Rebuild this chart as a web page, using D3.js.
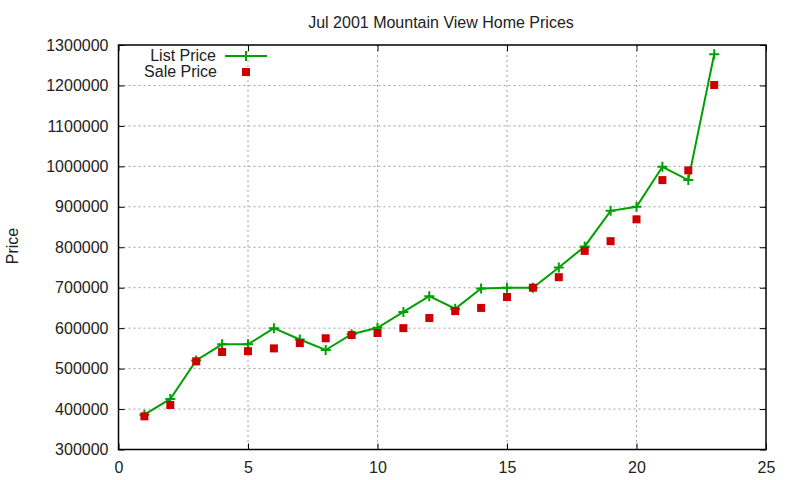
<!DOCTYPE html>
<html>
<head>
<meta charset="utf-8">
<script src="https://cdn.jsdelivr.net/npm/d3@7"></script>
<style>
  body { margin: 0; background: #fff; }
  text { font-family: "Liberation Sans", Arial, sans-serif; fill: #222; }
</style>
</head>
<body>
<script>
// datos
var casas = [1, 2, 3, 4, 5, 6, 7, 8, 9, 10, 11, 12, 13, 14, 15, 16, 17, 18, 19, 20, 21, 22, 23];
var listPrice = [386000, 425000, 520000, 560000, 560000, 600000, 572000, 546000, 585000, 601000,
                 640000, 679000, 648000, 698000, 700000, 700000, 750000, 802000, 890000, 900000,
                 999000, 966000, 1277000];
var salePrice = [382000, 410000, 518000, 541000, 543000, 550000, 563000, 575000, 583000, 588000,
                 600000, 625000, 642000, 650000, 677000, 700000, 726000, 791000, 815000, 869000,
                 966000, 990000, 1201000];
var xTicks = [0, 5, 10, 15, 20, 25];
var yTicks = [300000, 400000, 500000, 600000, 700000, 800000, 900000, 1000000, 1100000, 1200000, 1300000];

var vis = {
    width: 800,
    height: 480,
    left: 118.5,
    right: 766,
    top: 45,
    bottom: 449.5,
    verde: "#00a000",
    rojo: "#cc0000"
};

var svg = d3.select("body")
            .append("svg")
            .attr("width", vis.width)
            .attr("height", vis.height);

var x = d3.scaleLinear().domain([0, 25]).range([vis.left, vis.right]);
var y = d3.scaleLinear().domain([300000, 1300000]).range([vis.bottom, vis.top]);

// rejilla punteada
svg.append("g").selectAll("line")
    .data(xTicks.slice(1, -1))
    .enter().append("line")
    .attr("x1", d => x(d)).attr("x2", d => x(d))
    .attr("y1", vis.top).attr("y2", vis.bottom)
    .attr("stroke", "#a0a0a0").attr("stroke-dasharray", "2,3");
svg.append("g").selectAll("line")
    .data(yTicks.slice(1, -1))
    .enter().append("line")
    .attr("x1", vis.left).attr("x2", vis.right)
    .attr("y1", d => y(d)).attr("y2", d => y(d))
    .attr("stroke", "#a0a0a0").attr("stroke-dasharray", "2,3");

// ejes con ticks hacia dentro (y espejo)
var tick = 6;
var ejeX = svg.append("g").attr("transform", "translate(0," + vis.bottom + ")")
    .call(d3.axisBottom(x).tickValues(xTicks).tickSizeInner(-tick).tickSizeOuter(0).tickPadding(12));
var ejeY = svg.append("g").attr("transform", "translate(" + vis.left + ",0)")
    .call(d3.axisLeft(y).tickValues(yTicks).tickSizeInner(-tick).tickSizeOuter(0).tickPadding(10).tickFormat(d3.format("d")));
svg.append("g").attr("transform", "translate(0," + vis.top + ")")
    .call(d3.axisTop(x).tickValues(xTicks).tickSizeInner(-tick).tickSizeOuter(0).tickFormat(""));
svg.append("g").attr("transform", "translate(" + vis.right + ",0)")
    .call(d3.axisRight(y).tickValues(yTicks).tickSizeInner(-tick).tickSizeOuter(0).tickFormat(""));

svg.selectAll(".domain").remove();
svg.selectAll(".tick line").attr("stroke", "#000");
svg.selectAll(".tick text").attr("font-size", 16).attr("fill", "#222")
    .attr("font-family", "Liberation Sans, Arial, sans-serif");
ejeX.selectAll(".tick text").attr("dy", "0.71em");

// marco
svg.append("rect")
    .attr("x", vis.left).attr("y", vis.top)
    .attr("width", vis.right - vis.left).attr("height", vis.bottom - vis.top)
    .attr("fill", "none").attr("stroke", "#000").attr("stroke-width", 1.5);

// linea de List Price
var linea = d3.line()
    .x(function(d, i) { return x(casas[i]); })
    .y(function(d) { return y(d); });
svg.append("path")
    .datum(listPrice)
    .attr("d", linea)
    .attr("fill", "none")
    .attr("stroke", vis.verde)
    .attr("stroke-width", 2);

function mas(g, cx, cy) {
    g.append("path")
        .attr("d", "M" + (cx - 5) + "," + cy + "H" + (cx + 5) + "M" + cx + "," + (cy - 5) + "V" + (cy + 5))
        .attr("stroke", vis.verde).attr("stroke-width", 2).attr("fill", "none");
}
var marcas = svg.append("g");
listPrice.forEach(function(d, i) { mas(marcas, x(casas[i]), y(d)); });

// cuadrados de Sale Price
svg.append("g").selectAll("rect")
    .data(salePrice)
    .enter().append("rect")
    .attr("x", function(d, i) { return x(casas[i]) - 4; })
    .attr("y", function(d) { return y(d) - 4; })
    .attr("width", 8).attr("height", 8)
    .attr("fill", vis.rojo);

// titulo y etiqueta
svg.append("text")
    .attr("x", 441).attr("y", 28)
    .attr("text-anchor", "middle")
    .attr("font-size", 16)
    .text("Jul 2001 Mountain View Home Prices");
svg.append("text")
    .attr("transform", "translate(17.5,246) rotate(-90)")
    .attr("text-anchor", "middle")
    .attr("font-size", 16)
    .text("Price");

// leyenda
var ley = svg.append("g");
ley.append("text").attr("x", 216).attr("y", 61).attr("text-anchor", "end")
    .attr("font-size", 16).text("List Price");
ley.append("line").attr("x1", 225).attr("x2", 267).attr("y1", 56).attr("y2", 56)
    .attr("stroke", vis.verde).attr("stroke-width", 2);
mas(ley, 246, 56);
ley.append("text").attr("x", 217).attr("y", 77).attr("text-anchor", "end")
    .attr("font-size", 16).text("Sale Price");
ley.append("rect").attr("x", 242).attr("y", 68).attr("width", 8).attr("height", 8)
    .attr("fill", vis.rojo);
</script>
</body>
</html>
